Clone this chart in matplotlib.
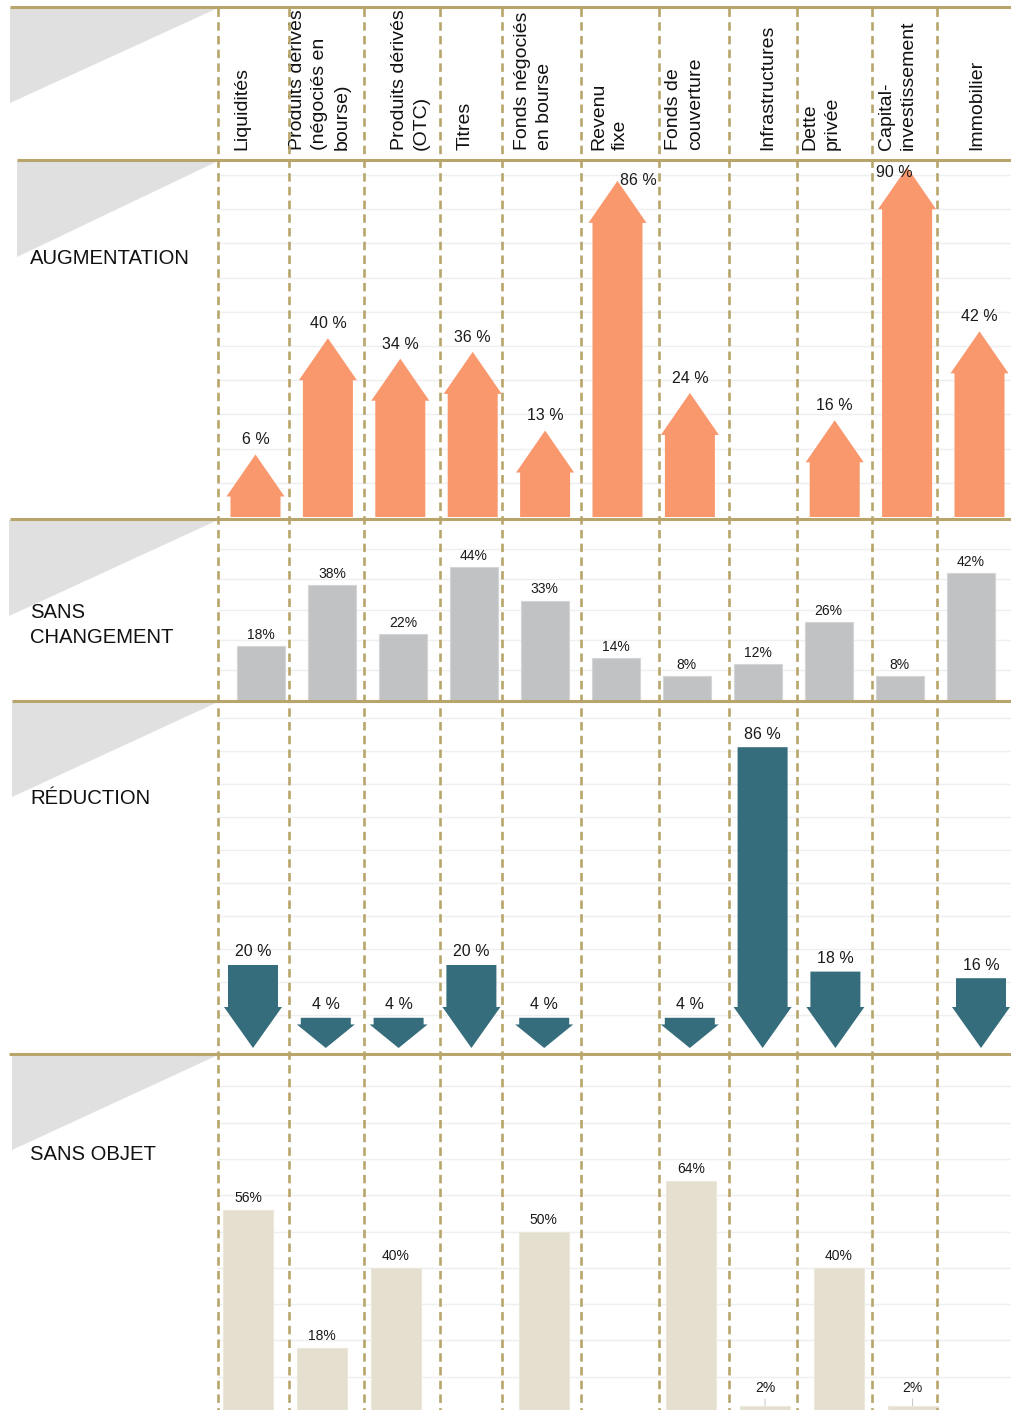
import matplotlib.pyplot as plt
from matplotlib.patches import Polygon

plt.rcParams['font.family'] = ['Liberation Sans', 'DejaVu Sans']

categories = ["Liquidités", "Produits dérivés\n(négociés en\nbourse)", "Produits dérivés\n(OTC)",
              "Titres", "Fonds négociés\nen bourse", "Revenu\nfixe", "Fonds de\ncouverture",
              "Infrastructures", "Dette\nprivée", "Capital-\ninvestissement", "Immobilier"]
augmentation = [6, 40, 34, 36, 13, 86, 24, None, 16, 90, 42]
sans_changement = [18, 38, 22, 44, 33, 14, 8, 12, 26, 8, 42]
reduction = [20, 4, 4, 20, 4, None, 4, 86, 18, None, 16]
sans_objet = [56, 18, 40, None, 50, None, 64, 2, 40, 2, None]
row_labels = ["AUGMENTATION", "SANS\nCHANGEMENT", "RÉDUCTION", "SANS OBJET"]

ORANGE = '#f9976d'
TEAL = '#356d7c'
GREY = '#c1c2c4'
BEIGE = '#e5dfd0'
GOLD = '#b8a56b'
TRI = '#e0e0e0'
GRID = '#efefef'

W, H = 1011, 1410
LEFT = 218
fig = plt.figure(figsize=(W / 100, H / 100), dpi=100)


def row_axes(top, bottom, x0, step, y0, ppu):
    # axes spanning one row; category i sits at pixel x0 + i*step, value 0 at pixel y0
    ax = fig.add_axes([LEFT / W, 1 - bottom / H, (W - LEFT) / W, (bottom - top) / H])
    ax.set_facecolor('none')
    for s in ax.spines.values():
        s.set_visible(False)
    ax.set_xticks([])
    ax.set_yticks(range(10, 110, 10))
    ax.tick_params(left=False, labelleft=False)
    ax.grid(axis='y', color=GRID, lw=1)
    ax.set_axisbelow(True)
    ax.set_xlim((LEFT - x0) / step, (W - x0) / step)
    ax.set_ylim(-(bottom - y0) / ppu, (y0 - top) / ppu)
    return ax


# augmentation arrows (up)
step = 72.4
ax = row_axes(160, 519, 255.5, step, 517, 3.42)
head = 42 / 3.42
special = {5: (15, 0), 9: (-9, -3.5)}
for i, v in enumerate(augmentation):
    if v is None:
        continue
    ax.arrow(i, 0, 0, v + head, width=50 / step, head_width=58 / step, head_length=head,
             length_includes_head=True, color=ORANGE, lw=0)
    dx, dy = special.get(i, (0, 10.5))
    ax.annotate(f"{v} %", (i, v + head), xytext=(dx, dy), textcoords='offset points',
                ha='center', va='center', fontsize=11.5, color='#1a1a1a')

# sans changement bars
step = 70.95
ax = row_axes(519, 701, 261, step, 700.5, 3.03)
ax.bar(range(len(sans_changement)), sans_changement, width=48 / step, color=GREY,
       edgecolor='#d4d5d7', lw=0.8)
for i, v in enumerate(sans_changement):
    ax.annotate(f"{v}%", (i, v), xytext=(0, 8), textcoords='offset points',
                ha='center', va='center', fontsize=10, color='#1a1a1a')

# reduction arrows (down)
step = 72.8
ppu = 3.3
ax = row_axes(701, 1054, 253, step, 1048, ppu)
extra = 17 / ppu
for i, v in enumerate(reduction):
    if v is None:
        continue
    total = v + extra
    hl = min(41 / ppu, 0.78 * total)
    ax.arrow(i, total, 0, -total, width=50 / step, head_width=58 / step, head_length=hl,
             length_includes_head=True, color=TEAL, lw=0)
    ax.annotate(f"{v} %", (i, total), xytext=(0, 9.5), textcoords='offset points',
                ha='center', va='center', fontsize=11.5, color='#1a1a1a')

# sans objet bars
step = 73.8
ax = row_axes(1054, 1410, 248.4, step, 1413, 3.63)
xs = [i for i, v in enumerate(sans_objet) if v is not None]
vals = [v for v in sans_objet if v is not None]
ax.bar(xs, vals, width=50 / step, color=BEIGE, edgecolor='#ece8dc', lw=0.8)
for i, v in zip(xs, vals):
    if v <= 2:
        ax.annotate(f"{v}%", (i, v), xytext=(0, 13), textcoords='offset points',
                    ha='center', va='center', fontsize=10, color='#1a1a1a',
                    arrowprops=dict(arrowstyle='-', color='#bbbbbb', lw=0.6,
                                    shrinkA=1, shrinkB=0))
    else:
        ax.annotate(f"{v}%", (i, v), xytext=(0, 8.6), textcoords='offset points',
                    ha='center', va='center', fontsize=10, color='#1a1a1a')

# overlay: frame lines, triangles, labels
ov = fig.add_axes([0, 0, 1, 1], zorder=10)
ov.set_xlim(0, W)
ov.set_ylim(H, 0)
ov.axis('off')
ov.patch.set_alpha(0)

triangles = [(8, 10, 103), (161, 17, 257), (520, 9, 616), (702, 12, 797), (1055, 12, 1150)]
for top, x0, yb in triangles:
    ov.add_patch(Polygon([(x0, top), (LEFT, top), (x0, yb)], closed=True,
                         facecolor=TRI, edgecolor='none', zorder=1))

hlines = [(7, 10), (160, 17), (519, 10), (701, 12), (1054, 9)]
for y, x0 in hlines:
    ov.plot([x0, W], [y, y], color=GOLD, lw=2.2, solid_capstyle='butt', zorder=3)

dividers = [218, 289, 364, 440, 502, 581, 659, 729, 797, 872, 937]
ov.vlines(dividers, 8, H, colors=GOLD, lw=1.9, linestyles=(0, (3.2, 2.0)), zorder=4)

header_x = [233, 289, 391, 457, 514, 590, 665, 759, 801, 878, 968]
for x, lab in zip(header_x, categories):
    ov.text(x, 150, lab, rotation=90, ha='left', va='bottom', multialignment='left',
            fontsize=14, color='#111111', linespacing=1.4)

label_y = [259, 625, 798, 1155]
for y, lab in zip(label_y, row_labels):
    ov.text(30, y, lab, ha='left', va='center', fontsize=14.6, color='#111111',
            linespacing=1.38)

fig.savefig('out.png', dpi=100)
